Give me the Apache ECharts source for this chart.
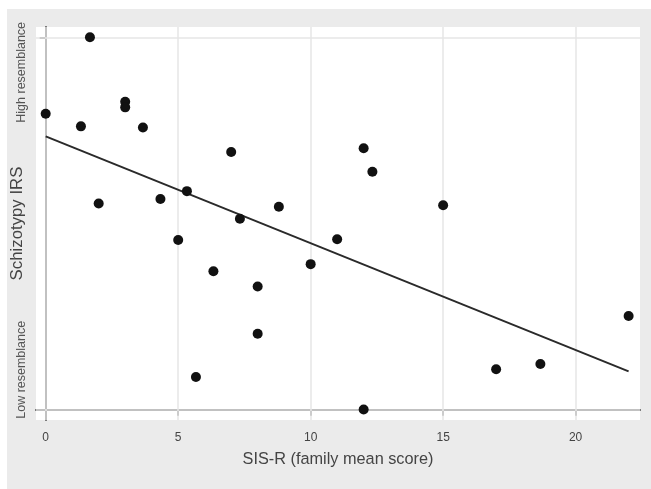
<!DOCTYPE html>
<html><head><meta charset="utf-8">
<script src="https://cdn.jsdelivr.net/npm/echarts@6/dist/echarts.min.js"></script>
<style>html,body{margin:0;padding:0;background:#fff}#c{width:651px;height:489px}</style>
</head><body><div id="c"></div>
<script>
const xVals = [0, 1.67, 1.33, 3, 3, 3.67, 2, 4.33, 5, 5.33, 7, 7.33, 6.33, 8, 8.8, 10, 11, 12, 12.33, 8, 5.67, 12, 15, 17, 18.67, 22];
const yVals = [79.5, 100, 76.1, 82.7, 81.2, 75.8, 55.4, 56.6, 45.6, 58.7, 69.2, 51.3, 37.2, 33.1, 54.5, 39.1, 45.8, 70.2, 63.9, 20.4, 8.8, 0.1, 54.9, 10.9, 12.3, 25.2];
const fitX = [0, 22];
const fitY = [73.4, 10.3];
const xTicks = [0, 5, 10, 15, 20];
const yTicks = [0, 100];
const yTickLabels = {0: 'Low resemblance', 100: 'High resemblance'};

const pts = xVals.map((x, i) => [x, yVals[i]]);
const fit = fitX.map((x, i) => [x, fitY[i]]);

const chart = echarts.init(document.getElementById('c'));
chart.setOption({
  animation: false,
  backgroundColor: '#fff',
  graphic: [{type: 'rect', left: 7, top: 9, shape: {width: 644, height: 480}, style: {fill: '#ebebeb'}, z: -10}],
  grid: {left: 36, top: 27, right: 11, bottom: 69, show: true, backgroundColor: '#fff', borderWidth: 0, outerBoundsMode: 'none', containLabel: false},
  xAxis: {
    type: 'value', min: -0.366, max: 22.43,
    name: 'SIS-R (family mean score)', nameLocation: 'middle', nameGap: 32, nameMoveOverlap: false,
    nameTextStyle: {fontFamily: 'Liberation Sans', fontSize: 16.3, color: '#444'},
    axisLine: {show: true, lineStyle: {color: '#555', width: 2}},
    axisTick: {show: true, length: 6, customValues: xTicks, lineStyle: {color: '#555', width: 1.5}},
    axisLabel: {customValues: xTicks, margin: 12, fontFamily: 'Liberation Sans', fontSize: 12, color: '#444'},
    splitLine: {show: false}
  },
  yAxis: {
    type: 'value', min: -2.74, max: 102.77,
    name: 'Schizotypy IRS', nameLocation: 'middle', nameGap: 10, nameMoveOverlap: false,
    nameTextStyle: {fontFamily: 'Liberation Sans', fontSize: 16.8, color: '#444'},
    axisLine: {show: true, lineStyle: {color: '#555', width: 2}},
    axisTick: {show: true, length: 6, customValues: yTicks, lineStyle: {color: '#555', width: 1.5}},
    axisLabel: {
      customValues: yTicks, rotate: 90, margin: 8, fontFamily: 'Liberation Sans', fontSize: 12.5, color: '#555',
      formatter: v => v === 100 ? '{h|' + yTickLabels[100] + '}' : '{l|' + yTickLabels[0] + '}',
      rich: {h: {padding: [0, 70, 0, 0], fontSize: 12.5, color: '#555'}, l: {padding: [0, 0, 0, 80], fontSize: 12.5, color: '#555'}}
    },
    splitLine: {show: false}
  },
  series: [
    {
      type: 'scatter', data: pts, symbolSize: 10, itemStyle: {color: '#111', opacity: 1}, z: 5,
      markLine: {
        silent: true, symbol: 'none', label: {show: false},
        lineStyle: {color: '#e6e6e6', width: 1.5, type: 'solid'},
        data: xTicks.map(v => ({xAxis: v})).concat(yTicks.map(v => ({yAxis: v}))),
        z: 1
      }
    },
    {type: 'line', data: fit, showSymbol: false, lineStyle: {color: '#2a2a2a', width: 2}, z: 4}
  ]
});
</script></body></html>
